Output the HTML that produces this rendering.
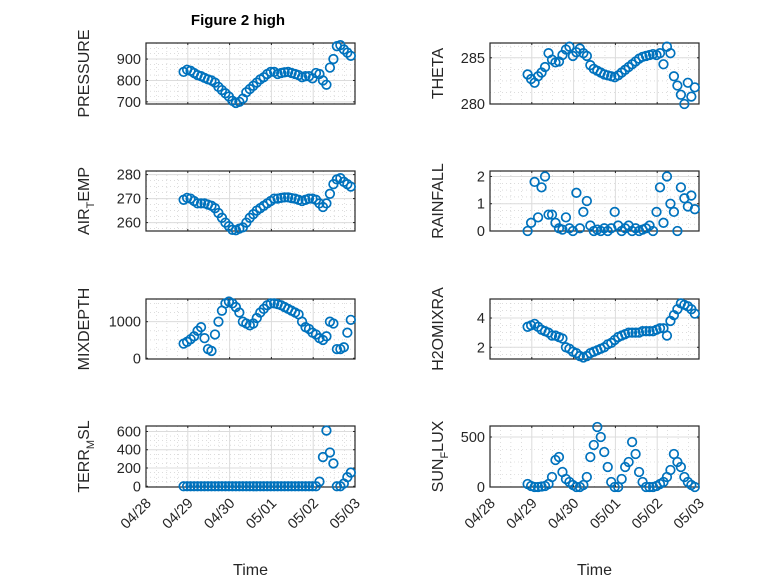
<!DOCTYPE html>
<html><head><meta charset="utf-8"><style>
html,body{margin:0;padding:0;background:#fff;}
svg{display:block;font-family:"Liberation Sans","DejaVu Sans",sans-serif;}
</style></head><body>
<svg id="fig" width="778" height="583" viewBox="0 0 778 583" xmlns="http://www.w3.org/2000/svg">
<rect width="778" height="583" fill="#fff"/>
<text x="238" y="25" text-anchor="middle" font-size="15" font-weight="bold" fill="#000">Figure 2 high</text>
</svg>
<script>
const dayLabels = ["04/28","04/29","04/30","05/01","05/02","05/03"];
const tStart = 0.9, tStep = 1/12;
const pressure = [840,850,845,835,825,820,812,805,800,790,770,755,740,725,705,695,700,715,745,760,775,790,805,815,830,840,840,830,835,838,840,835,830,825,815,820,820,810,835,830,800,780,860,900,960,965,945,930,915];
const airTemp = [269.5,270.3,270,269,268,268,268,267.5,267,266,264,262,260,258.5,257,256.8,257.5,258,260,262,263.5,265,266,267,268,269,270,270,270.3,270.5,270.5,270.2,270,269.5,269,269.5,270,270,269.5,268,266.5,268,272,276,278,278.5,277,276,275];
const mixDepth = [400,450,520,600,750,850,550,250,200,650,1000,1300,1500,1550,1500,1400,1250,1000,950,900,950,1100,1250,1350,1450,1500,1500,1480,1450,1400,1350,1300,1250,1200,1000,850,800,700,650,550,500,600,1000,950,250,250,300,700,1050];
const terrMsl = [0,0,0,0,0,0,0,0,0,0,0,0,0,0,0,0,0,0,0,0,0,0,0,0,0,0,0,0,0,0,0,0,0,0,0,0,0,0,0,50,320,610,370,250,0,0,30,100,150];
const theta = [283.2,282.7,282.3,283.0,283.4,284.0,285.5,284.8,284.5,284.6,285.3,285.9,286.2,285.2,285.6,286.0,285.5,285.2,284.2,283.8,283.6,283.4,283.2,283.1,283.0,282.9,283.1,283.4,283.7,284.0,284.3,284.6,284.9,285.1,285.2,285.3,285.4,285.3,285.5,284.3,286.2,285.5,283.0,282.0,281.0,280.0,282.3,280.8,281.8];
const rainfall = [0,0.3,1.8,0.5,1.6,2.0,0.6,0.6,0.3,0.1,0.05,0.5,0.1,0,1.4,0.1,0.7,1.1,0.2,0,0.05,0,0.1,0,0.1,0.7,0.2,0,0.1,0.2,0,0.1,0,0.05,0.1,0.2,0,0.7,1.6,0.3,2.0,1.0,0.7,0,1.6,1.2,0.9,1.3,0.8];
const h2oMix = [3.4,3.5,3.6,3.4,3.2,3.1,3.0,2.8,2.8,2.7,2.6,2.0,1.9,1.7,1.6,1.4,1.3,1.4,1.6,1.7,1.8,1.9,2.0,2.2,2.3,2.5,2.7,2.8,2.9,3.0,3.0,3.0,3.0,3.1,3.1,3.1,3.1,3.2,3.3,3.3,2.8,3.8,4.2,4.6,5.0,4.9,4.8,4.6,4.3];
const sunFlux = [30,10,0,0,5,10,30,100,270,300,150,80,50,20,0,0,20,100,300,420,600,500,350,200,50,0,0,80,200,250,450,330,150,50,0,0,0,10,30,50,100,170,330,250,200,100,50,20,0];

const NS="http://www.w3.org/2000/svg";
const svg=document.getElementById('fig');
function mk(tag,attrs,parent){const e=document.createElementNS(NS,tag);for(const k in attrs)e.setAttribute(k,attrs[k]);(parent||svg).appendChild(e);return e;}

const cols=[146,490], W=209;
const rows=[[43,104],[171,231],[299,359],[426,487]];
const panels=[
 {name:"pressure",data:pressure,col:0,row:0,ylim:[690,975],ticks:[700,800,900],label:["PRESSURE"]},
 {name:"theta",data:theta,col:1,row:0,ylim:[280,286.6],ticks:[280,285],label:["THETA"]},
 {name:"air-temp",data:airTemp,col:0,row:1,ylim:[256.5,281.5],ticks:[260,270,280],label:["AIR","T","EMP"]},
 {name:"rainfall",data:rainfall,col:1,row:1,ylim:[0,2.2],ticks:[0,1,2],label:["RAINFALL"]},
 {name:"mixdepth",data:mixDepth,col:0,row:2,ylim:[-20,1620],ticks:[0,1000],label:["MIXDEPTH"]},
 {name:"h2omixra",data:h2oMix,col:1,row:2,ylim:[1.2,5.3],ticks:[2,4],label:["H2OMIXRA"]},
 {name:"terr-msl",data:terrMsl,col:0,row:3,ylim:[-8,660],ticks:[0,200,400,600],label:["TERR","M","SL"]},
 {name:"sun-flux",data:sunFlux,col:1,row:3,ylim:[0,610],ticks:[0,500],label:["SUN","F","LUX"]}
];

panels.forEach(p=>{
 const x0=cols[p.col], x1=x0+W, y0=rows[p.row][0], y1=rows[p.row][1];
 const xs=t=>x0+t/5*W;
 const ys=v=>y1-(v-p.ylim[0])/(p.ylim[1]-p.ylim[0])*(y1-y0);
 const g=mk('g',{});
 
 
 mk('rect',{x:x0,y:y0,width:W,height:y1-y0,fill:'#fff'},g);
 for(let i=0;i<20;i++){ if(i%4===0)continue; const x=xs(i/4);
  mk('line',{x1:x,y1:y0,x2:x,y2:y1,stroke:'#c8c8c8','stroke-width':0.6,'stroke-dasharray':'1 3'},g);}
 const dt=p.ticks[1]-p.ticks[0];
 for(let v=p.ticks[0]-dt;v<=p.ylim[1];v+=dt/4){const y=ys(v); if(y<y0+1||y>y1-1)continue;
  mk('line',{x1:x0,y1:y,x2:x1,y2:y,stroke:'#c8c8c8','stroke-width':0.6,'stroke-dasharray':'1 3'},g);}
 for(let d=1;d<5;d++){const x=xs(d);
  mk('line',{x1:x,y1:y0,x2:x,y2:y1,stroke:'#dcdcdc','stroke-width':1},g);}
 p.ticks.forEach(v=>{const y=ys(v);
  if(y>y0+1&&y<y1-1) mk('line',{x1:x0,y1:y,x2:x1,y2:y,stroke:'#dcdcdc','stroke-width':1},g);
  mk('line',{x1:x0,y1:y,x2:x0+2,y2:y,stroke:'#262626','stroke-width':1},g);
  mk('line',{x1:x1,y1:y,x2:x1-2,y2:y,stroke:'#262626','stroke-width':1},g);
  const tl=mk('text',{x:x0-5,y:y+5,'text-anchor':'end','font-size':14.5,fill:'#262626'},g);
  
  
  tl.textContent=String(v);
 });
 for(let d=0;d<=5;d++){const x=xs(d);
  mk('line',{x1:x,y1:y1,x2:x,y2:y1-2,stroke:'#262626','stroke-width':1},g);
  mk('line',{x1:x,y1:y0,x2:x,y2:y0+2,stroke:'#262626','stroke-width':1},g);}
 mk('rect',{x:x0,y:y0,width:W,height:y1-y0,fill:'none',stroke:'#262626','stroke-width':1.2},g);
 p.data.forEach((v,i)=>{
  const c=mk('circle',{cx:xs(tStart+i*tStep),cy:ys(v),r:4.3,fill:'none',stroke:'#0072BD','stroke-width':1.7},g);
  
  
 });
 const lx=p.col===0?89:443, ly=(y0+y1)/2;
 const lab=mk('text',{x:lx,y:ly,'text-anchor':'middle','font-size':16,fill:'#262626',transform:`rotate(-90 ${lx} ${ly})`},g);
 
 
 if(p.label.length===1){lab.textContent=p.label[0];}
 else{
  const a=mk('tspan',{},lab);a.textContent=p.label[0];
  const b=mk('tspan',{dy:5,'font-size':11},lab);b.textContent=p.label[1];
  const c=mk('tspan',{dy:-5},lab);c.textContent=p.label[2];
 }
 if(p.row===3){
  dayLabels.forEach((s,d)=>{const x=xs(d);
   const t=mk('text',{x:x+6,y:y1+17,'text-anchor':'end','font-size':14.5,fill:'#262626',transform:`rotate(-45 ${x+6} ${y1+17})`},g);
   
   
   t.textContent=s;});
  const xt=mk('text',{x:(x0+x1)/2,y:575,'text-anchor':'middle','font-size':16,fill:'#262626'},g);
  
  
  xt.textContent='Time';
 }
});
</script>
</body></html>
